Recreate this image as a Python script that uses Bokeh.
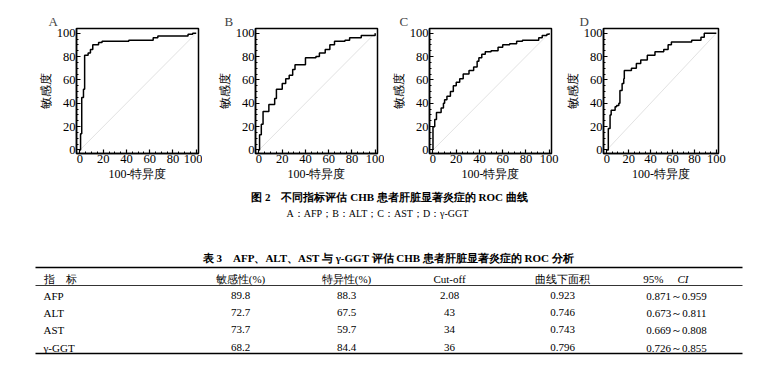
from bokeh.plotting import figure
from bokeh.layouts import row, column
from bokeh.models import FixedTicker, Range1d
from bokeh.embed import file_html
from bokeh.resources import INLINE
from bokeh.core.properties import value

SERIF = "Liberation Serif"

# ---- ROC step data (x = 100-特异度, y = 敏感度) ----
A_fpr = [0, 0.5, 1.5, 3, 4, 7, 9, 11, 16, 19, 42, 63, 67, 93, 97, 100]
A_tpr = [0, 14, 45, 52, 81, 83, 86, 90, 92, 93, 94, 96, 97.5, 99, 100, 100]

B_fpr = [0, 0.5, 2, 3.5, 8.5, 13.5, 15, 20, 23, 26, 29, 31, 40, 49, 52, 57, 61, 65, 74, 78, 88, 100]
B_tpr = [0, 13, 22, 33, 39, 44, 52, 57, 61, 64, 69, 73, 79, 80, 83, 86, 90, 93, 94, 96, 98, 100]

C_fpr = [0, 0, 1.5, 3, 7, 9, 10, 12, 15, 17.5, 20, 23, 26, 31, 35, 38, 39.5, 42, 45, 50, 56, 60, 66, 72, 77, 91, 94, 98, 100]
C_tpr = [0, 20, 26, 32, 36, 40, 43, 46, 50, 55, 58, 61, 65, 68, 71, 76, 79, 82, 84, 85, 88, 90, 91, 93, 94, 96, 98, 99, 100]

D_fpr = [0, 1.4, 3, 4, 7.6, 9, 11, 12, 14, 15.5, 16, 22.5, 27, 31, 37, 44, 52, 56, 59, 77.5, 86, 89, 100]
D_tpr = [0, 18.5, 30, 34, 37, 38, 40, 51, 57, 61, 68, 70, 74, 77, 81, 84, 86, 90, 92.5, 94, 96.5, 100, 100]

panel_labels = ["A", "B", "C", "D"]
ticks = [0, 20, 40, 60, 80, 100]
x_title = "100-特异度"
y_title = "敏感度"

# ---- table data ----
caption1 = "图 2　不同指标评估 CHB 患者肝脏显著炎症的 ROC 曲线"
caption2 = "A：AFP；B：ALT；C：AST；D：γ-GGT"
table_title = "表 3　AFP、ALT、AST 与 γ-GGT 评估 CHB 患者肝脏显著炎症的 ROC 分析"
headers = ["敏感性(%)", "特异性(%)", "Cut-off", "曲线下面积"]
header_first = "指　标"
indicators = ["AFP", "ALT", "AST", "γ-GGT"]
sensitivity = ["89.8", "72.7", "73.7", "68.2"]
specificity = ["88.3", "67.5", "59.7", "84.4"]
cutoff = ["2.08", "43", "34", "36"]
auc = ["0.923", "0.746", "0.743", "0.796"]
ci = ["0.871～0.959", "0.673～0.811", "0.669～0.808", "0.726～0.855"]


def roc_fig(letter, fpr, tpr, width, left, right, title_off):
    p = figure(width=width, height=183, x_range=Range1d(-3, 102), y_range=Range1d(-3, 104),
               output_backend="svg", toolbar_location=None,
               min_border_left=left, min_border_right=right,
               min_border_top=28, min_border_bottom=28)
    p.title.text = letter
    p.title.text_font = SERIF
    p.title.text_font_size = "13px"
    p.title.text_font_style = "normal"
    p.title.align = "left"
    p.title.offset = title_off
    p.title.standoff = 0
    p.grid.visible = False
    p.outline_line_color = "black"
    p.outline_line_width = 1.5
    p.background_fill_color = "white"
    p.border_fill_color = "white"
    for ax in (p.xaxis[0], p.yaxis[0]):
        ax.ticker = FixedTicker(ticks=ticks, minor_ticks=list(range(0, 101, 5)))
        ax.major_tick_in = 4
        ax.major_tick_out = 0
        ax.minor_tick_in = 2
        ax.minor_tick_out = 0
        ax.axis_line_width = 1.5
        ax.major_tick_line_width = 1.2
        ax.major_label_text_font = SERIF
        ax.major_label_text_font_size = "12.5px"
        ax.major_label_text_color = "black"
        ax.major_label_standoff = 1
        ax.axis_label_text_font = SERIF
        ax.axis_label_text_font_size = "12px"
        ax.axis_label_text_font_style = "normal"
        ax.axis_label_text_color = "black"
        ax.axis_label_standoff = 1
    p.xaxis.axis_label = x_title
    p.yaxis.axis_label = y_title
    p.line([0, 100], [0, 100], line_color="#e2e2e2", line_width=1)
    p.step(fpr, tpr, mode="after", line_color="black", line_width=1.5)
    return p


pA = roc_fig(panel_labels[0], A_fpr, A_tpr, 202, 76, 4, -28)
pB = roc_fig(panel_labels[1], B_fpr, B_tpr, 182, 53, 7, -31)
pC = roc_fig(panel_labels[2], C_fpr, C_tpr, 178, 45, 11, -30)
pD = roc_fig(panel_labels[3], D_fpr, D_tpr, 166, 33, 10, -24)

# ---- caption + table ----
TW, TH = 758, 184
t = figure(width=TW, height=TH, x_range=Range1d(-8, TW - 8), y_range=Range1d(TH, 0),
           output_backend="svg", toolbar_location=None, min_border=0,
           x_axis_location=None, y_axis_location=None)
t.grid.visible = False
t.outline_line_color = None

t.text(x=[381], y=[13], text=[caption1], text_font=value(SERIF), text_font_size="11px",
       text_font_style="bold", text_align="center", text_baseline="middle")
t.text(x=[369], y=[30], text=[caption2], text_font=value(SERIF), text_font_size="10px",
       text_align="center", text_baseline="middle")
t.text(x=[380], y=[74], text=[table_title], text_font=value(SERIF), text_font_size="11px",
       text_font_style="bold", text_align="center", text_baseline="middle")

# rules
t.segment(x0=[27], y0=[84], x1=[734], y1=[84], line_color="black", line_width=1.6)
t.segment(x0=[27], y0=[102], x1=[734], y1=[102], line_color="black", line_width=0.8)
t.segment(x0=[27], y0=[170], x1=[734], y1=[170], line_color="black", line_width=1.6)

col_x = [232, 338, 441, 554]
header_y = 95
row_y = [112, 129, 146, 164]

t.text(x=[35], y=[header_y], text=[header_first], text_font=value(SERIF), text_font_size="11px",
       text_align="left", text_baseline="middle")
t.text(x=col_x, y=[header_y] * 4, text=headers, text_font=value(SERIF), text_font_size="11px",
       text_align="center", text_baseline="middle")
t.text(x=[655], y=[header_y], text=["95%"], text_font=value(SERIF), text_font_size="11px",
       text_align="right", text_baseline="middle")
t.text(x=[669], y=[header_y], text=["CI"], text_font=value(SERIF), text_font_size="11px",
       text_font_style="italic", text_align="left", text_baseline="middle")

t.text(x=[35] * 4, y=row_y, text=indicators, text_font=value(SERIF), text_font_size="11px",
       text_align="left", text_baseline="middle")
for cx, vals in zip(col_x + [668], [sensitivity, specificity, cutoff, auc, ci]):
    t.text(x=[cx] * 4, y=row_y, text=vals, text_font=value(SERIF), text_font_size="11px",
           text_align="center", text_baseline="middle")

layout = column(row(pA, pB, pC, pD, spacing=0), t, spacing=0)

with open("out.html", "w") as f:
    f.write(file_html(layout, INLINE))
